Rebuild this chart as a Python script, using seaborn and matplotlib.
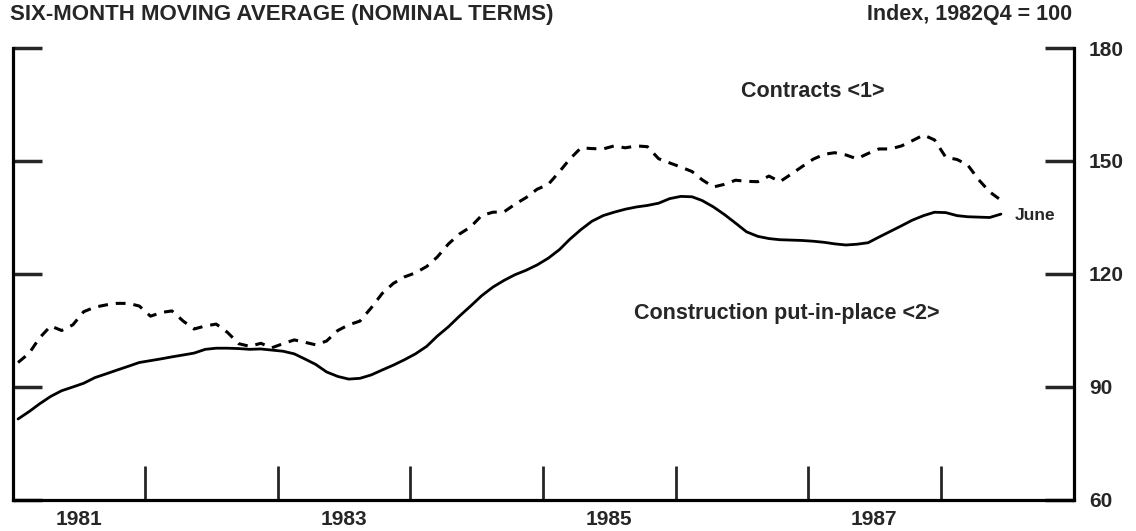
import numpy as np
import pandas as pd
import matplotlib
matplotlib.use("Agg")
import matplotlib.pyplot as plt
import seaborn as sns

# Monthly six-month moving averages, Jan 1981 - June 1988 (index, 1982Q4 = 100)
months = pd.date_range("1981-01-01", "1988-06-01", freq="MS") + pd.Timedelta(days=14)

construction = [
    81.5, 83.5, 85.5, 87.5, 89.0, 90.0, 91.0, 92.5, 93.5, 94.5, 95.5, 96.5,
    97.0, 97.5, 98.0, 98.5, 99.0, 100.0, 100.3, 100.3, 100.2, 100.0, 100.1, 99.8,
    99.5, 98.8, 97.5, 96.0, 94.0, 92.8, 92.1, 92.3, 93.2, 94.5, 95.8, 97.2,
    98.8, 100.8, 103.5, 106.0, 108.8, 111.5, 114.2, 116.5, 118.3, 119.8, 121.0, 122.4,
    124.2, 126.5, 129.2, 131.8, 134.0, 135.5, 136.4, 137.2, 137.8, 138.2, 138.8, 140.0,
    140.6, 140.5, 139.5, 137.8, 135.8, 133.5, 131.2, 130.0, 129.4, 129.1, 129.0, 128.9,
    128.7, 128.4, 128.0, 127.7, 127.9, 128.3, 129.8, 131.3, 132.8, 134.3, 135.5, 136.4,
    136.3, 135.5, 135.2, 135.1, 135.0, 135.9,
]

contracts = [
    96.5, 99.0, 103.0, 106.2, 105.0, 106.5, 110.0, 111.2, 111.8, 112.2, 112.2, 111.5,
    108.8, 109.8, 110.2, 107.5, 105.4, 106.2, 106.7, 104.5, 101.5, 100.8, 101.6, 100.4,
    101.5, 102.5, 101.9, 101.2, 102.2, 105.0, 106.5, 107.5, 111.0, 114.8, 117.5, 119.2,
    120.3, 122.0, 124.5, 128.0, 130.6, 132.5, 135.5, 136.4, 136.5, 138.5, 140.3, 142.5,
    143.8, 147.2, 150.5, 153.5, 153.3, 153.2, 154.0, 153.5, 154.0, 153.8, 150.6, 149.5,
    148.4, 147.2, 145.0, 143.1, 143.8, 144.9, 144.6, 144.5, 146.0, 144.5, 146.5, 148.5,
    150.5, 151.8, 152.2, 151.6, 150.6, 152.0, 153.2, 153.2, 154.0, 155.4, 156.9, 155.6,
    151.0, 150.4, 149.0, 145.0, 141.8, 139.6,
]

y_ticks = [60, 90, 120, 150, 180]
year_labels = ["1981", "1983", "1985", "1987"]

df = pd.DataFrame({"date": months, "Construction": construction, "Contracts": contracts})

sns.set_style("white")
plt.rcParams["font.family"] = ["Liberation Sans", "DejaVu Sans"]

fig, ax = plt.subplots(figsize=(11.36, 5.31), dpi=100)
fig.subplots_adjust(left=0.0114, right=0.945, bottom=0.0584, top=0.9096)

sns.lineplot(data=df, x="date", y="Construction", ax=ax, color="black", linewidth=2.0)
sns.lineplot(data=df, x="date", y="Contracts", ax=ax, color="black", linewidth=2.2,
             linestyle=(0, (3.2, 2.6)))

ax.set_xlim(pd.Timestamp("1981-01-01"), pd.Timestamp("1989-01-01"))
ax.set_ylim(60, 180)
ax.set_xlabel("")
ax.set_ylabel("")

# major ticks at year boundaries, labels centred in odd years
ax.set_xticks([pd.Timestamp(f"{y}-01-01") for y in range(1982, 1989)])
ax.set_xticklabels([])
ax.set_xticks([pd.Timestamp(f"{y}-07-01") for y in year_labels], minor=True)
ax.set_xticklabels(year_labels, minor=True, fontsize=15, fontweight="bold")
ax.tick_params(axis="x", which="major", direction="in", length=24.5, width=2, bottom=True)
ax.tick_params(axis="x", which="minor", length=0, pad=7)

ax.set_yticks(y_ticks)
ax.set_yticklabels([str(v) for v in y_ticks], fontsize=15, fontweight="bold")
ax.tick_params(axis="y", direction="in", length=21, width=2.5, left=True, right=True,
               labelleft=False, labelright=True, pad=11)

for side in ["left", "right", "bottom"]:
    ax.spines[side].set_visible(True)
    ax.spines[side].set_linewidth(2.3)
    ax.spines[side].set_color("black")
ax.spines["top"].set_visible(False)

fig.text(0.009, 0.972, "SIX-MONTH MOVING AVERAGE (NOMINAL TERMS)", fontsize=16,
         fontweight="bold", ha="left", va="center")
fig.text(0.944, 0.972, "Index, 1982Q4 = 100", fontsize=15.5, fontweight="bold",
         ha="right", va="center")

ax.text(pd.Timestamp("1986-07-01"), 168.5, "Contracts <1>", fontsize=15.5,
        fontweight="bold", ha="left", va="center")
ax.text(pd.Timestamp("1985-09-08"), 109.5, "Construction put-in-place <2>", fontsize=15.5,
        fontweight="bold", ha="left", va="center")
ax.text(pd.Timestamp("1988-07-22"), 135.5, "June", fontsize=12.5,
        fontweight="bold", ha="left", va="center")

fig.savefig("out.png", dpi=100)
